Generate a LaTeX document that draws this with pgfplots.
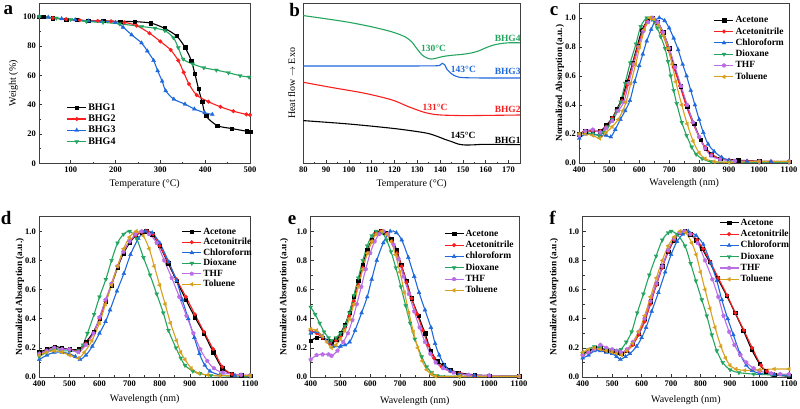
\documentclass[border=0pt]{standalone}
\usepackage{fontspec}
\setmainfont{Liberation Serif}
\usepackage{pgfplots}
\pgfplotsset{compat=1.18}
\definecolor{cred}{RGB}{250,30,30}
\definecolor{cblue}{RGB}{30,105,220}
\definecolor{cgreen}{RGB}{35,165,95}
\definecolor{cviolet}{RGB}{185,110,230}
\definecolor{corange}{RGB}{215,160,30}
\pgfplotsset{
  panel/.style={
    scale only axis, anchor=north west,
    axis line style={line width=0.8pt, black!75},
    tick align=inside, xtick pos=left, ytick pos=left,
    minor tick num=1,
    major tick length=3pt, minor tick length=1.8pt,
    every tick/.style={black!80, line width=0.6pt},
    tick label style={font=\fontsize{8.5}{9}\selectfont\bfseries},
    /pgf/number format/assume math mode=true,
    /pgf/number format/1000 sep={},
    label style={font=\fontsize{10}{11}\selectfont\bfseries},
    every axis x label/.style={at={(axis description cs:0.5,-0.13)}, anchor=center},
    every axis y label/.style={at={(axis description cs:-0.1,0.5)}, rotate=90, anchor=center},
    legend style={draw=none, fill=none, inner sep=0pt, outer sep=0pt, anchor=north west,
      font=\fontsize{9.5}{10}\selectfont\bfseries,
      nodes={inner sep=0.5pt, text height=6.5pt, text depth=1.5pt}, row sep=2.3pt, column sep=1pt},
    legend cell align=left,
    legend image code/.code={\draw[mark repeat=2,mark phase=2,##1] plot coordinates {(0pt,0pt) (9.5pt,0pt) (19pt,0pt)};},
    every axis plot/.append style={line width=1.1pt, smooth, tension=0.5},
  },
  spec/.style={panel, xmin=400, xmax=1100, ymin=0, ymax=1.1,
    xtick={400,500,600,700,800,900,1000,1100}, ytick={0,0.2,0.4,0.6,0.8,1.0},
    yticklabel style={/pgf/number format/fixed, /pgf/number format/fixed zerofill, /pgf/number format/precision=1},
    xlabel={Wavelength (nm)}, ylabel={Normalized Absorption (a.u.)},
    ylabel style={font=\fontsize{9.3}{10}\selectfont\bfseries}},
  sA/.style={black, mark=square*, mark options={solid, line width=0.3pt, mark size=1.7pt}},
  sB/.style={cred, mark=*, mark options={solid, line width=0.3pt, mark size=1.9pt}},
  sC/.style={cblue, mark=triangle*, mark options={solid, line width=0.3pt, mark size=2.3pt}},
  sD/.style={cgreen, mark=triangle*, mark options={solid, line width=0.3pt, mark size=2.3pt, rotate=180}},
  sE/.style={cviolet, mark=pentagon*, mark options={solid, line width=0.3pt, mark size=2.1pt}},
  sF/.style={corange, mark=triangle*, mark options={solid, line width=0.3pt, mark size=2.3pt, rotate=90}},
}
\begin{document}
\begin{tikzpicture}
\path[use as bounding box] (0pt,0pt) rectangle (800pt,-408pt);
% ---------------- a ----------------
\begin{axis}[panel, at={(39.3pt,-3.3pt)}, width=210.7pt, height=160pt,
  xmin=30, xmax=500, ymin=0, ymax=109, xtick={100,200,300,400,500}, ytick={0,20,40,60,80,100},
  xlabel={Temperature (°C)}, ylabel={Weight (\%)},
  xlabel style={at={(axis description cs:0.5,-0.131)}}, ylabel style={at={(axis description cs:-0.123,0.5)}},
  legend style={at={(0.130,0.379)}, font=\fontsize{10}{11}\selectfont\bfseries, nodes={inner sep=0.5pt, text height=7pt, text depth=2pt}, row sep=1.3pt}]
\addplot[sA] coordinates {(30,100)(40,99.8)(60,99)(90,98)(113,97.7)(139,97)(172,97)(210,96.6)(243,96.5)(279,95.5)(309,92)(336,86.8)(355,79)(369,70)(377,61)(385,51)(393,42)(402,32.3)(427,25.7)(459,23.7)(492,21.9)(500,21.6)};
\addplot[sB] coordinates {(30,100)(60,99)(90,98.2)(120,97.5)(160,97)(190,96.7)(220,96)(247,93.8)(276,88.6)(300,83)(323,77.2)(340,70)(352,62)(364,54)(381,46.5)(407,42)(434,38.5)(463,35.5)(492,33.3)(500,33)};
\addplot[sC] coordinates {(30,100)(50,99.5)(80,98.5)(110,97.8)(140,97)(170,96.5)(200,96)(217,92.7)(236,87.5)(258,82)(271,76.5)(285,70)(294,63)(304,56)(312,49.4)(330,43.7)(355,40.3)(376,37)(399,34.4)(416,33.3)};
\addplot[sD] coordinates {(30,100)(68,98.9)(100,98)(135,96.6)(172,96)(209,95)(258,93.2)(288,92)(310,90.4)(329,85.6)(340,78.8)(351,71)(372,67.7)(397,65.1)(425,63.5)(452,61.7)(478,59.7)(498,58.7)};
\legend{BHG1,BHG2,BHG3,BHG4}
\end{axis}
% ---------------- b ----------------
\begin{axis}[panel, at={(303.3pt,-3.3pt)}, width=216.7pt, height=160pt,
  xmin=80, xmax=175, ymin=0, ymax=160, xtick={80,90,100,110,120,130,140,150,160,170}, ytick=\empty,
  xlabel={Temperature (°C)}, ylabel={Heat flow $\rightarrow$ Exo},
  xlabel style={at={(axis description cs:0.5,-0.131)}}, ylabel style={at={(axis description cs:-0.054,0.5)}},
  every axis plot/.append style={no marks}]
\addplot[cgreen] coordinates {(80,147.7)(90,144.5)(100,141)(110,136.5)(118,132)(122,129)(125,126)(127.5,121.5)(130,114)(132,108.5)(134,105.5)(136,104.3)(138,105)(141,106.7)(145,108)(150,109)(154,110.5)(157,112.5)(160,115.5)(163,118)(166,119.5)(170,120.5)(175,120.5)};
\addplot[cblue] coordinates {(80,97.3)(100,97.3)(120,97.3)(138,97.5)(140,98.5)(141,100)(142,98.5)(143,94)(145,89.5)(147,87)(150,85.7)(160,85.3)(175,85.3)};
\addplot[cred] coordinates {(80,81)(92,76)(107,70)(119,63.3)(126,56.7)(133,51)(138,48.7)(141,48.2)(150,47.7)(160,47.9)(175,48.3)};
\addplot[black] coordinates {(80,42.7)(100,39.3)(119,35)(130,31.7)(135,29.7)(139,26.7)(142,24)(145,21.7)(148,19.2)(151,18.3)(155,18.5)(160,19)(175,18.7)};
\begin{scope}[font=\fontsize{9.5}{10}\selectfont\bfseries]
\node[cgreen] at (axis cs:137.1,115) {130°C};
\node[cgreen] at (axis cs:169.6,125) {BHG4};
\node[cblue] at (axis cs:150.2,94) {143°C};
\node[cblue] at (axis cs:169.6,91.6) {BHG3};
\node[cred] at (axis cs:137.8,56) {131°C};
\node[cred] at (axis cs:169.6,54) {BHG2};
\node[black] at (axis cs:150,27.6) {145°C};
\node[black] at (axis cs:169.6,23.3) {BHG1};
\end{scope}
\end{axis}
% ---------------- c ----------------
\begin{axis}[spec, at={(579.3pt,-3.3pt)}, width=209.7pt, height=159.7pt,
  xlabel style={at={(axis description cs:0.5,-0.125)}}, ylabel style={at={(axis description cs:-0.093,0.5)}},
  legend style={at={(0.642,0.922)}}]
\addplot[sA] coordinates {(400,0.2)(420,0.22)(445,0.22)(470,0.22)(490,0.26)(510,0.31)(525,0.37)(541,0.44)(560,0.56)(578,0.69)(594,0.81)(610,0.92)(628,0.98)(645,1.0)(662,0.97)(680,0.9)(700,0.79)(716,0.67)(738,0.53)(760,0.39)(783,0.27)(805,0.16)(822,0.1)(840,0.06)(870,0.03)(930,0.02)(1000,0.012)(1100,0.01)};
\addplot[sB] coordinates {(400,0.2)(420,0.22)(445,0.22)(470,0.22)(490,0.25)(510,0.31)(525,0.36)(543,0.43)(560,0.54)(578,0.68)(595,0.8)(612,0.91)(626,0.98)(640,1.0)(658,0.97)(676,0.9)(695,0.79)(715,0.66)(736,0.53)(756,0.4)(778,0.28)(800,0.18)(820,0.11)(842,0.06)(870,0.03)(900,0.02)(960,0.015)(1040,0.01)(1100,0.01)};
\addplot[sC] coordinates {(400,0.17)(420,0.2)(445,0.2)(470,0.19)(490,0.19)(505,0.18)(520,0.23)(537,0.3)(553,0.36)(569,0.43)(585,0.56)(600,0.67)(612,0.75)(625,0.84)(640,0.92)(653,0.98)(667,1.0)(685,0.98)(700,0.93)(715,0.86)(730,0.78)(745,0.68)(758,0.6)(772,0.5)(786,0.4)(800,0.3)(814,0.21)(830,0.13)(850,0.08)(875,0.04)(900,0.02)(960,0.012)(1040,0.01)(1100,0.01)};
\addplot[sD] coordinates {(400,0.2)(420,0.21)(445,0.2)(465,0.19)(480,0.21)(495,0.25)(510,0.3)(525,0.36)(538,0.42)(553,0.55)(570,0.69)(589,0.82)(605,0.94)(625,1.0)(642,0.99)(660,0.93)(672,0.87)(686,0.79)(696,0.7)(705,0.6)(715,0.5)(725,0.41)(742,0.28)(758,0.19)(775,0.11)(790,0.06)(810,0.03)(840,0.008)(900,0.005)(1000,0.005)(1100,0.005)};
\addplot[sE] coordinates {(400,0.19)(420,0.22)(445,0.23)(470,0.21)(490,0.24)(510,0.29)(530,0.36)(549,0.42)(565,0.55)(582,0.68)(598,0.8)(614,0.91)(630,0.97)(645,1.0)(662,0.97)(680,0.9)(700,0.79)(720,0.66)(740,0.53)(760,0.4)(780,0.28)(800,0.18)(820,0.1)(840,0.05)(870,0.025)(920,0.015)(1000,0.01)(1100,0.01)};
\addplot[sF] coordinates {(400,0.2)(420,0.2)(445,0.19)(468,0.17)(490,0.21)(510,0.25)(530,0.3)(545,0.36)(556,0.42)(572,0.55)(588,0.68)(602,0.8)(618,0.92)(635,1.0)(650,0.99)(665,0.95)(680,0.88)(697,0.79)(710,0.68)(722,0.56)(742,0.4)(760,0.27)(780,0.15)(800,0.07)(820,0.03)(850,0.01)(900,0.005)(1000,0.01)(1100,0.01)};
\legend{Acetone,Acetonitrile,Chloroform,Dioxane,THF,Toluene}
\end{axis}
% ---------------- d ----------------
\begin{axis}[spec, at={(39.3pt,-216.7pt)}, width=210.7pt, height=160.3pt,
  xlabel style={at={(axis description cs:0.5,-0.137)}}, ylabel style={at={(axis description cs:-0.092,0.5)}},
  legend style={at={(0.676,0.934)}, row sep=1.5pt}]
\addplot[sA] coordinates {(400,0.17)(425,0.19)(450,0.21)(475,0.2)(500,0.19)(530,0.19)(555,0.24)(580,0.31)(600,0.4)(620,0.52)(640,0.63)(660,0.75)(680,0.85)(700,0.92)(720,0.97)(740,0.995)(755,1.0)(775,0.98)(800,0.9)(828,0.78)(856,0.66)(887,0.53)(917,0.41)(947,0.3)(978,0.17)(1008,0.06)(1040,0.02)(1070,0.012)(1100,0.01)};
\addplot[sB] coordinates {(400,0.16)(425,0.18)(450,0.2)(475,0.19)(500,0.19)(530,0.18)(555,0.23)(580,0.3)(600,0.4)(620,0.52)(640,0.64)(660,0.76)(680,0.86)(700,0.93)(720,0.97)(740,0.995)(758,1.0)(778,0.98)(800,0.9)(828,0.79)(856,0.67)(887,0.55)(917,0.43)(947,0.31)(978,0.19)(1008,0.07)(1040,0.02)(1070,0.012)(1100,0.01)};
\addplot[sC] coordinates {(400,0.12)(425,0.15)(450,0.17)(475,0.17)(500,0.16)(520,0.14)(535,0.12)(555,0.15)(576,0.21)(600,0.3)(620,0.38)(635,0.46)(658,0.59)(681,0.71)(703,0.84)(729,0.95)(752,1.0)(775,0.99)(800,0.92)(830,0.79)(856,0.66)(875,0.53)(895,0.4)(915,0.27)(932,0.16)(950,0.08)(967,0.04)(1000,0.015)(1050,0.01)(1100,0.01)};
\addplot[sD] coordinates {(400,0.14)(425,0.17)(450,0.19)(475,0.18)(500,0.18)(530,0.18)(545,0.22)(560,0.3)(582,0.43)(600,0.55)(621,0.67)(640,0.8)(660,0.92)(680,0.98)(700,1.0)(723,0.95)(746,0.82)(768,0.7)(790,0.57)(812,0.44)(829,0.32)(854,0.2)(870,0.13)(884,0.08)(910,0.04)(934,0.025)(970,0.01)(1100,0.005)};
\addplot[sE] coordinates {(400,0.16)(425,0.18)(450,0.2)(475,0.19)(500,0.19)(530,0.17)(555,0.22)(580,0.3)(600,0.41)(620,0.53)(640,0.64)(660,0.76)(680,0.86)(700,0.93)(720,0.98)(740,1.0)(765,0.98)(790,0.92)(815,0.8)(840,0.68)(865,0.55)(889,0.42)(912,0.3)(935,0.19)(958,0.11)(980,0.06)(1010,0.03)(1070,0.015)(1100,0.01)};
\addplot[sF] coordinates {(400,0.15)(425,0.17)(450,0.18)(475,0.17)(500,0.15)(530,0.13)(550,0.17)(575,0.25)(600,0.37)(620,0.5)(640,0.63)(660,0.76)(680,0.88)(700,0.96)(722,1.0)(745,0.97)(765,0.88)(782,0.76)(800,0.63)(818,0.5)(836,0.37)(856,0.25)(870,0.17)(884,0.12)(905,0.06)(930,0.025)(960,0.015)(1000,0.01)(1100,0.01)};
\legend{Acetone,Acetonitrile,Chloroform,Dioxane,THF,Toluene}
\end{axis}
% ---------------- e ----------------
\begin{axis}[spec, at={(310.7pt,-216.7pt)}, width=208.3pt, height=160.3pt,
  xlabel style={at={(axis description cs:0.5,-0.148)}}, ylabel style={at={(axis description cs:-0.128,0.5)}},
  legend style={at={(0.640,0.921)}}]
\addplot[sA] coordinates {(400,0.25)(420,0.27)(440,0.27)(460,0.25)(470,0.24)(485,0.26)(500,0.3)(515,0.36)(530,0.44)(545,0.55)(560,0.66)(575,0.77)(590,0.87)(605,0.94)(620,0.99)(635,1.0)(650,0.99)(670,0.95)(689,0.87)(704,0.77)(722,0.66)(739,0.54)(762,0.42)(784,0.3)(804,0.18)(825,0.11)(846,0.08)(870,0.05)(896,0.03)(950,0.015)(1000,0.01)(1100,0.005)};
\addplot[sB] coordinates {(400,0.32)(420,0.3)(440,0.27)(465,0.23)(485,0.25)(500,0.28)(515,0.34)(530,0.42)(545,0.52)(560,0.63)(575,0.75)(590,0.85)(605,0.93)(620,0.99)(635,1.0)(655,0.98)(672,0.93)(690,0.85)(706,0.76)(722,0.65)(739,0.54)(758,0.43)(777,0.32)(795,0.22)(815,0.13)(840,0.07)(870,0.04)(900,0.025)(950,0.01)(1100,0.005)};
\addplot[sC] coordinates {(400,0.3)(420,0.31)(440,0.28)(460,0.24)(475,0.21)(500,0.21)(515,0.22)(531,0.24)(549,0.32)(571,0.44)(590,0.55)(605,0.67)(622,0.8)(644,0.92)(667,1.0)(688,0.99)(706,0.94)(728,0.82)(748,0.69)(764,0.58)(784,0.46)(804,0.34)(818,0.23)(832,0.15)(850,0.08)(870,0.04)(900,0.02)(950,0.01)(1000,0.01)(1100,0.005)};
\addplot[sD] coordinates {(400,0.48)(415,0.43)(430,0.37)(445,0.31)(460,0.27)(470,0.25)(485,0.27)(500,0.3)(515,0.35)(530,0.44)(545,0.56)(560,0.68)(575,0.8)(590,0.9)(605,0.97)(620,1.0)(640,0.99)(655,0.94)(670,0.86)(686,0.75)(703,0.62)(719,0.49)(734,0.37)(750,0.26)(773,0.14)(790,0.07)(807,0.03)(825,0.01)(900,0.005)(1100,0.005)};
\addplot[sE] coordinates {(400,0.12)(420,0.15)(440,0.155)(460,0.155)(470,0.145)(490,0.18)(509,0.24)(525,0.3)(540,0.39)(555,0.5)(570,0.62)(585,0.74)(600,0.85)(615,0.93)(630,0.98)(645,1.0)(660,0.98)(678,0.91)(695,0.81)(712,0.69)(730,0.57)(748,0.45)(766,0.34)(784,0.24)(802,0.16)(820,0.1)(845,0.06)(880,0.03)(930,0.015)(1000,0.01)(1100,0.005)};
\addplot[sF] coordinates {(400,0.33)(420,0.32)(440,0.28)(455,0.24)(470,0.2)(485,0.22)(500,0.26)(515,0.32)(530,0.4)(545,0.5)(560,0.62)(575,0.74)(590,0.85)(605,0.93)(620,0.98)(640,1.0)(656,0.98)(670,0.93)(685,0.84)(700,0.72)(715,0.58)(730,0.44)(745,0.31)(760,0.2)(775,0.11)(790,0.05)(805,0.02)(820,0.005)(900,0.005)(1100,0.005)};
\legend{Acetone,Acetonitrile,chloroform,Dioxane,THF,Toluene}
\end{axis}
% ---------------- f ----------------
\begin{axis}[spec, at={(582.7pt,-216.7pt)}, width=206.3pt, height=160.3pt,
  xlabel style={at={(axis description cs:0.5,-0.143)}}, ylabel style={at={(axis description cs:-0.139,0.5)}},
  legend style={at={(0.661,0.99)}}]
\addplot[sA] coordinates {(400,0.16)(420,0.18)(440,0.2)(460,0.2)(480,0.18)(500,0.18)(515,0.17)(530,0.16)(550,0.18)(570,0.23)(590,0.3)(610,0.4)(630,0.52)(650,0.64)(670,0.76)(690,0.86)(710,0.94)(728,0.99)(745,1.0)(765,0.98)(785,0.94)(805,0.88)(830,0.79)(857,0.68)(888,0.56)(917,0.44)(945,0.32)(973,0.19)(1000,0.09)(1020,0.04)(1050,0.015)(1100,0.005)};
\addplot[sB] coordinates {(400,0.15)(420,0.17)(440,0.19)(460,0.19)(480,0.18)(500,0.18)(515,0.17)(530,0.16)(550,0.18)(570,0.22)(590,0.29)(610,0.38)(630,0.5)(650,0.63)(670,0.75)(690,0.86)(710,0.94)(730,0.99)(748,1.0)(768,0.98)(788,0.94)(808,0.88)(833,0.79)(860,0.68)(890,0.56)(918,0.44)(947,0.32)(975,0.2)(1005,0.08)(1025,0.04)(1050,0.02)(1100,0.01)};
\addplot[sC] coordinates {(400,0.13)(420,0.15)(440,0.18)(460,0.18)(480,0.17)(500,0.16)(515,0.14)(528,0.12)(545,0.14)(560,0.16)(583,0.21)(600,0.27)(615,0.34)(634,0.45)(657,0.58)(680,0.72)(700,0.84)(720,0.93)(740,0.98)(758,1.0)(785,0.97)(809,0.91)(835,0.78)(855,0.66)(872,0.53)(892,0.4)(911,0.29)(934,0.16)(955,0.08)(975,0.045)(1000,0.025)(1050,0.015)(1100,0.01)};
\addplot[sD] coordinates {(400,0.16)(420,0.19)(440,0.21)(460,0.2)(480,0.19)(500,0.18)(515,0.18)(530,0.19)(548,0.24)(566,0.31)(585,0.44)(606,0.57)(626,0.7)(649,0.83)(670,0.94)(690,0.99)(700,1.0)(720,0.98)(747,0.9)(766,0.78)(784,0.66)(804,0.53)(821,0.42)(838,0.29)(855,0.18)(875,0.1)(900,0.05)(930,0.03)(980,0.02)(1040,0.015)(1100,0.015)};
\addplot[sE] coordinates {(400,0.15)(420,0.17)(440,0.19)(460,0.22)(480,0.2)(500,0.19)(515,0.18)(530,0.17)(550,0.19)(570,0.24)(590,0.31)(610,0.4)(630,0.52)(650,0.64)(670,0.76)(690,0.87)(710,0.95)(730,0.99)(745,1.0)(765,0.98)(790,0.92)(815,0.8)(840,0.67)(860,0.55)(878,0.42)(897,0.31)(915,0.22)(935,0.15)(955,0.1)(980,0.06)(1000,0.04)(1040,0.025)(1070,0.02)(1100,0.02)};
\addplot[sF] coordinates {(400,0.17)(420,0.19)(440,0.2)(460,0.19)(480,0.18)(500,0.17)(515,0.16)(532,0.15)(550,0.18)(570,0.23)(590,0.31)(610,0.42)(630,0.55)(650,0.68)(670,0.8)(690,0.9)(710,0.96)(730,1.0)(750,0.99)(770,0.92)(785,0.84)(800,0.72)(815,0.6)(832,0.47)(849,0.34)(869,0.21)(885,0.13)(900,0.08)(920,0.055)(950,0.045)(1000,0.05)(1050,0.055)(1100,0.055)};
\legend{Acetone,Acetonitrile,Chloroform,Dioxane,THF,Toluene}
\end{axis}
% panel letters
\begin{scope}[font=\fontsize{19}{19}\selectfont\bfseries]
\node at (8.3pt,-10.5pt) {a};
\node at (294.7pt,-10pt) {b};
\node at (554pt,-11pt) {c};
\node at (6.2pt,-218.3pt) {d};
\node at (292.2pt,-220pt) {e};
\node at (552.5pt,-218.3pt) {f};
\end{scope}
\end{tikzpicture}
\end{document}
